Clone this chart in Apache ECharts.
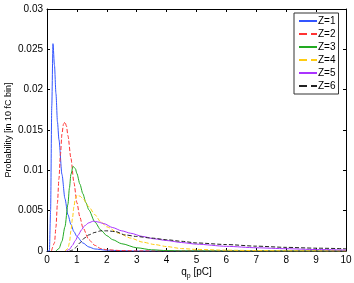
<!DOCTYPE html>
<html><head><meta charset="utf-8">
<script src="https://cdn.jsdelivr.net/npm/echarts@6/dist/echarts.min.js"></script>
<style>html,body{margin:0;padding:0;background:#fff}#c{width:354px;height:283px}</style>
</head><body><div id="c"></div>
<script>
var seriesNames = ['Z=1','Z=2','Z=3','Z=4','Z=5','Z=6'];
var xTicks = [0,1,2,3,4,5,6,7,8,9,10];
var yTicks = [0,0.005,0.01,0.015,0.02,0.025,0.03];
var z1 = [[0,0],[0.08,0],[0.12,0.005],[0.16,0.018],[0.2,0.0257],[0.25,0.023],[0.3,0.0195],[0.35,0.016],[0.4,0.0138],[0.5,0.0095],[0.6,0.0065],[0.7,0.0045],[0.8,0.0033],[0.9,0.0024],[1.0,0.0018],[1.2,0.001],[1.4,0.0005],[1.6,0.00025],[2.0,0.0001],[2.5,0.00003],[3,0],[10,0]];
var z2 = [[0.15,0],[0.25,0.001],[0.3,0.003],[0.35,0.006],[0.4,0.009],[0.45,0.012],[0.5,0.0145],[0.55,0.0157],[0.6,0.016],[0.65,0.0155],[0.7,0.0143],[0.8,0.0115],[0.9,0.0085],[1.0,0.006],[1.1,0.0042],[1.2,0.0029],[1.4,0.0014],[1.6,0.0007],[1.8,0.0003],[2.0,0.00015],[2.5,0.00005],[3,0.00001],[10,0]];
var z3 = [[0.3,0],[0.4,0.0003],[0.5,0.0012],[0.6,0.003],[0.7,0.0058],[0.75,0.0078],[0.8,0.0095],[0.87,0.0105],[0.95,0.0102],[1.0,0.0096],[1.1,0.0083],[1.2,0.0071],[1.3,0.006],[1.4,0.0051],[1.6,0.0036],[1.8,0.0026],[2.0,0.0019],[2.2,0.0014],[2.5,0.0009],[3.0,0.0004],[3.5,0.00015],[4.0,0.00005],[4.5,0.00001],[10,0]];
var z4 = [[0.6,0],[0.7,0.0003],[0.75,0.001],[0.8,0.0025],[0.85,0.004],[0.9,0.0055],[0.95,0.0065],[1.0,0.0069],[1.1,0.0068],[1.2,0.0065],[1.4,0.0055],[1.6,0.0045],[1.8,0.0036],[2.0,0.003],[2.4,0.0022],[2.8,0.0016],[3.2,0.0011],[3.6,0.0008],[4.0,0.00055],[4.5,0.0003],[5,0.0002],[6,0.0001],[7,0.00005],[8,0.00002],[10,0]];
var z5 = [[0.65,0],[0.75,0.0002],[0.85,0.0007],[0.95,0.0013],[1.05,0.002],[1.15,0.0026],[1.25,0.0031],[1.4,0.0035],[1.55,0.0037],[1.7,0.0036],[1.9,0.0034],[2.2,0.0029],[2.5,0.0025],[2.8,0.0022],[3.2,0.0018],[3.6,0.0015],[4.0,0.0013],[4.5,0.00105],[5,0.00085],[6,0.00058],[7,0.0004],[8,0.00028],[9,0.00018],[10,0.00012]];
var z6 = [[0.75,0],[0.85,0.0001],[0.95,0.0004],[1.1,0.001],[1.25,0.0016],[1.4,0.002],[1.6,0.0023],[1.8,0.0025],[2.0,0.0025],[2.3,0.0024],[2.6,0.002],[3.0,0.0018],[3.5,0.0016],[4.0,0.0014],[4.5,0.0012],[5,0.001],[6,0.0008],[7,0.0006],[8,0.00045],[9,0.00035],[10,0.00028]];
var allData = [z1,z2,z3,z4,z5,z6];
var colors = ['#3355ff','#ff3333','#22aa22','#ffcc11','#aa33ff','#222222'];
var dashes = ['solid','dashed','solid','dashed','solid','dashed'];

var chart = echarts.init(document.getElementById('c'), null, {renderer:'canvas'});
var font = 'Liberation Sans, Arial, sans-serif';
var axisCommon = {
  type:'value', min:0,
  axisLine:{show:true, onZero:false, lineStyle:{color:'#000', width:1}},
  axisTick:{show:true, inside:true, length:3, lineStyle:{color:'#000'}},
  splitLine:{show:false}
};
var option = {
  animation:false,
  textStyle:{fontFamily:font},
  grid:{left:47, right:8, top:9, bottom:32, containLabel:false, outerBoundsMode:'none'},
  legend:{
    data: seriesNames, orient:'vertical', left:294, top:13,
    backgroundColor:'#fff', borderColor:'#333', borderWidth:1,
    padding:[3,3,3,4], itemGap:3, itemWidth:18, itemHeight:10,
    itemStyle:{opacity:0},
    textStyle:{fontSize:10, color:'#000', fontFamily:font, padding:[0,0,0,-4]}
  },
  xAxis:[
    Object.assign({}, axisCommon, {max:10, interval:1, position:'bottom',
      axisLabel:{show:true, color:'#000', fontSize:10, margin:4, fontFamily:font},
      name:'{a|q}{b|p}{a| [pC]}', nameLocation:'middle', nameGap:14, nameMoveOverlap:false,
      nameTextStyle:{rich:{a:{fontSize:10, color:'#000', fontFamily:font}, b:{fontSize:7, color:'#000', fontFamily:font, verticalAlign:'bottom', padding:[8,0,0,0]}}}
    }),
    Object.assign({}, axisCommon, {max:10, interval:1, position:'top', axisLabel:{show:false}})
  ],
  yAxis:[
    Object.assign({}, axisCommon, {max:0.03, interval:0.005, position:'left',
      axisLabel:{show:true, color:'#000', fontSize:10, margin:4, fontFamily:font},
      name:'Probability [in 10 fC bin]', nameLocation:'middle', nameGap:34, nameMoveOverlap:false,
      nameTextStyle:{fontSize:9, color:'#000', fontFamily:font}
    }),
    Object.assign({}, axisCommon, {max:0.03, interval:0.005, position:'right', axisLabel:{show:false}})
  ],
  series: allData.map(function(d,i){
    return {
      name: seriesNames[i], type:'line', data:d, showSymbol:false, symbol:'none',
      smooth:0.25, smoothMonotone:'x', xAxisIndex:0, yAxisIndex:0,
      lineStyle:{color:colors[i], width:1, type:dashes[i]}, itemStyle:{color:colors[i]}
    };
  })
};
chart.setOption(option);
</script></body></html>
